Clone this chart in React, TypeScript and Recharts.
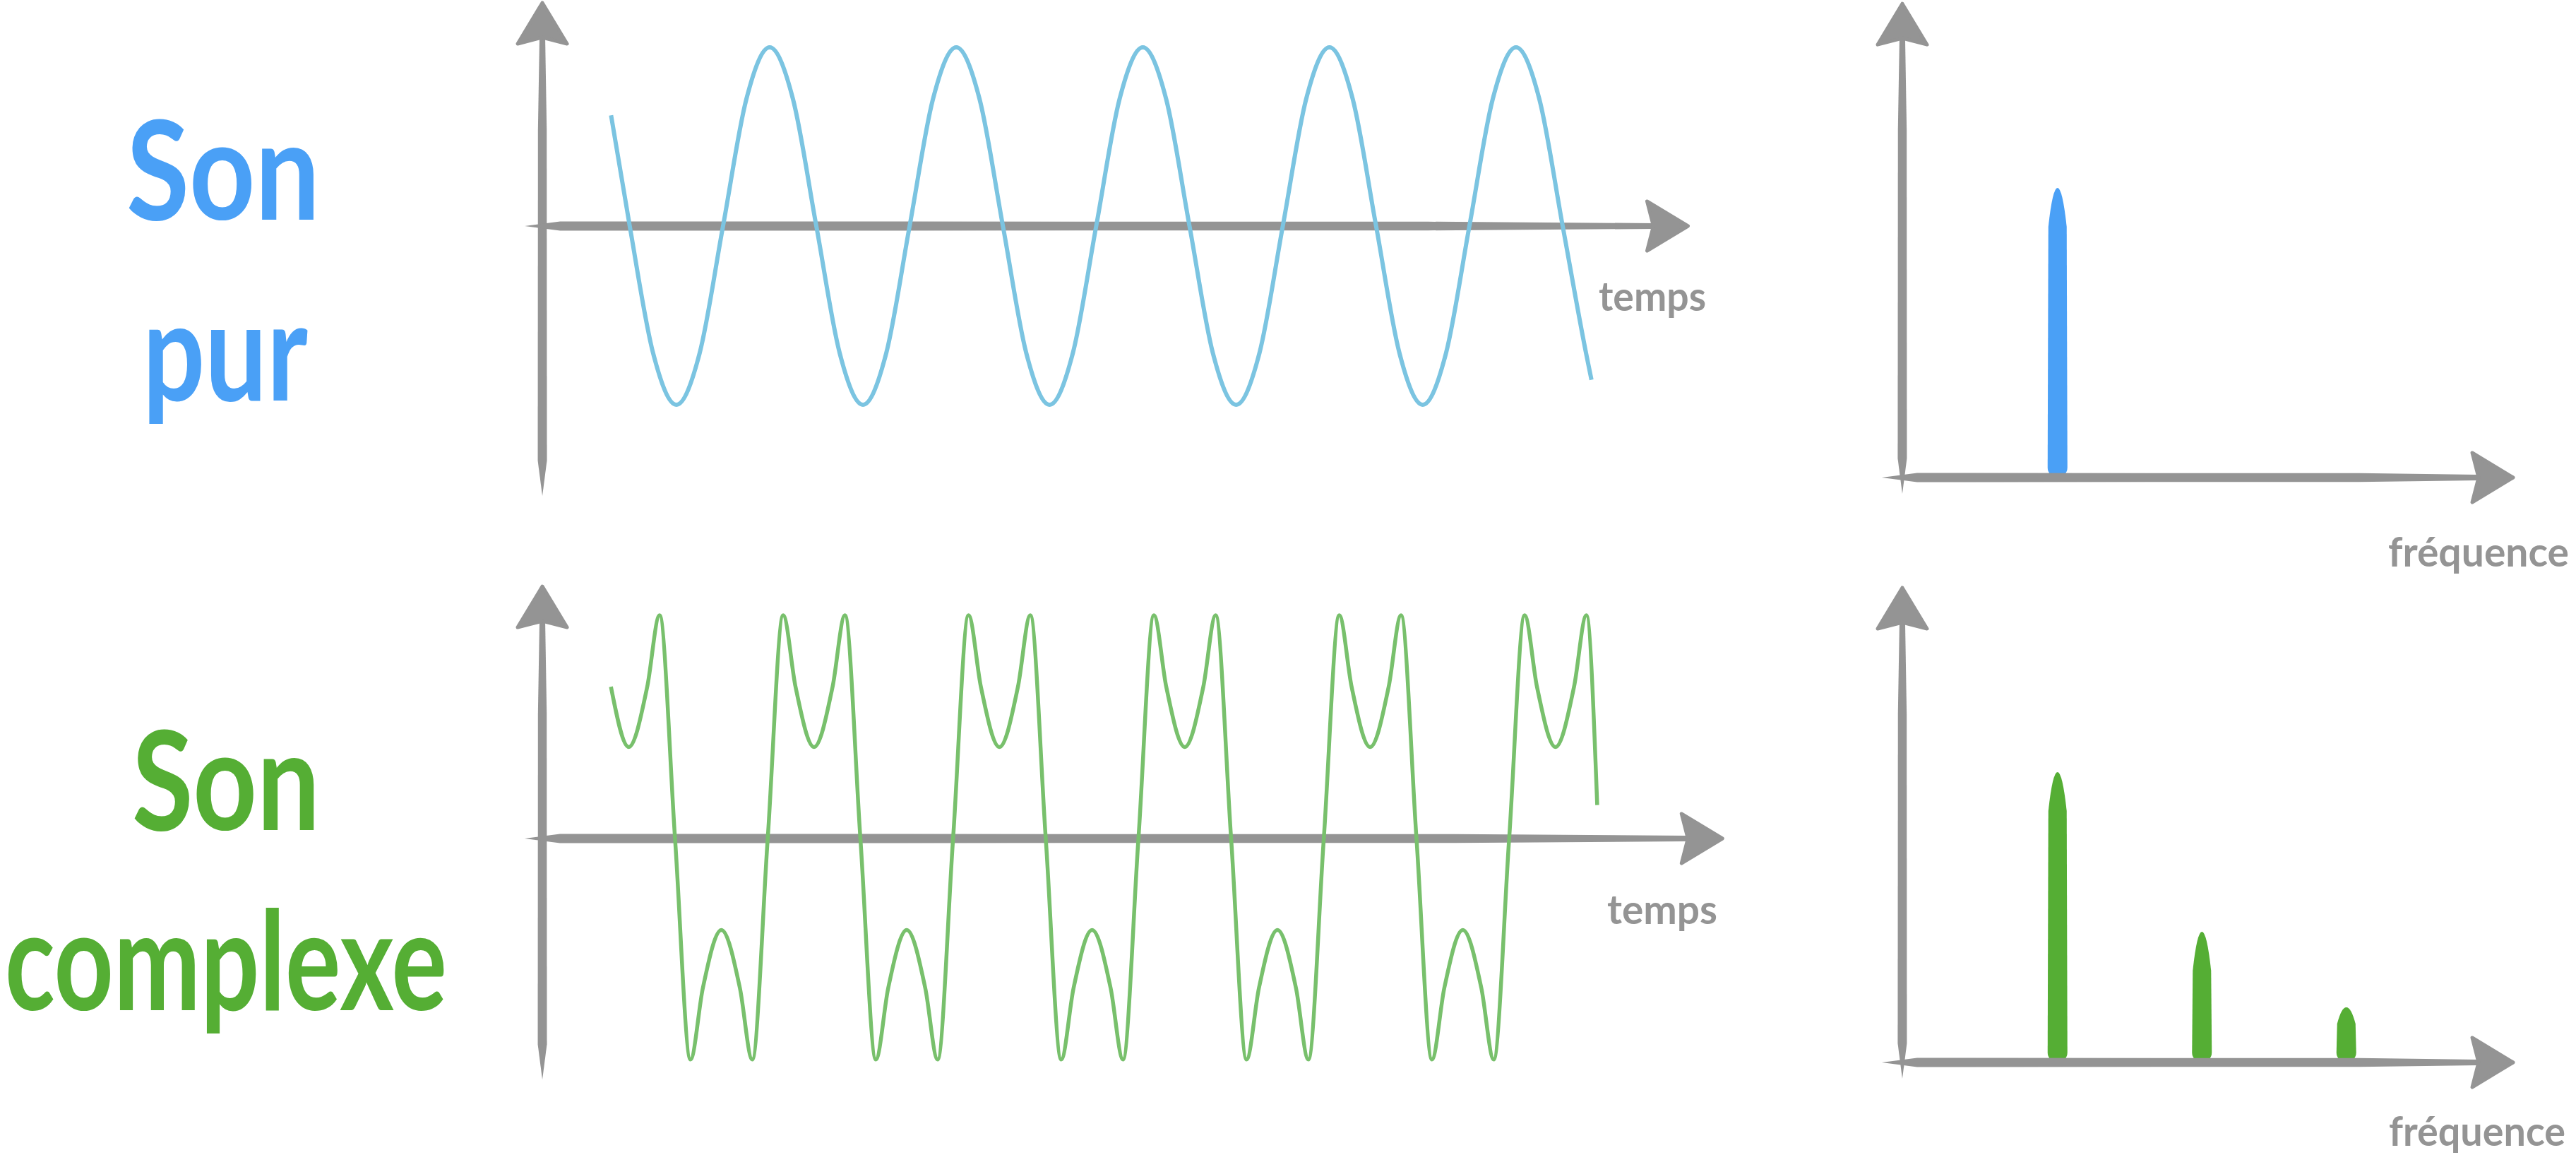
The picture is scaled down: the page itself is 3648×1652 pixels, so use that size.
import { Bar, BarChart, Line, LineChart, ReferenceLine, XAxis, YAxis } from "recharts";

const AXIS_GREY = "#949494";
const BLUE = "#4aa0f6";
const BLUE_WAVE = "#7bc4e1";
const GREEN = "#55ae34";
const GREEN_WAVE = "#78c06c";

// time is counted in 1/24 of a period, amplitude is relative to the peak
const pureTime = [
    -2.4,
    0, 3, 6, 9, 12, 15, 18, 21,
    24, 27, 30, 33, 36, 39, 42, 45,
    48, 51, 54, 57, 60, 63, 66, 69,
    72, 75, 78, 81, 84, 87, 90, 93,
    96, 99, 102, 105, 108, 111, 114, 117,
    120, 123, 123.7
];
const pureAmplitude = [
    0.62,
    0, -0.71, -1, -0.71, 0, 0.71, 1, 0.71,
    0, -0.71, -1, -0.71, 0, 0.71, 1, 0.71,
    0, -0.71, -1, -0.71, 0, 0.71, 1, 0.71,
    0, -0.71, -1, -0.71, 0, 0.71, 1, 0.71,
    0, -0.71, -1, -0.71, 0, 0.71, 1, 0.71,
    0, -0.71, -0.86
];

const complexTime = [
    3.7, 6, 8.4, 10, 12, 14, 15.6, 18, 20.4, 22,
    24, 26, 27.6, 30, 32.4, 34, 36, 38, 39.6, 42, 44.4, 46,
    48, 50, 51.6, 54, 56.4, 58, 60, 62, 63.6, 66, 68.4, 70,
    72, 74, 75.6, 78, 80.4, 82, 84, 86, 87.6, 90, 92.4, 94,
    96, 98, 99.6, 102, 104.4, 106, 108, 110, 111.6, 114, 116.4, 118,
    120, 122, 123.6, 126, 128.4, 130, 131.4
];
const complexAmplitude = [
    0.68, 0.41, 0.68, 1, 0, -0.99, -0.67, -0.41, -0.67, -0.99,
    0, 1, 0.68, 0.41, 0.68, 1, 0, -0.99, -0.67, -0.41, -0.67, -0.99,
    0, 1, 0.68, 0.41, 0.68, 1, 0, -0.99, -0.67, -0.41, -0.67, -0.99,
    0, 1, 0.68, 0.41, 0.68, 1, 0, -0.99, -0.67, -0.41, -0.67, -0.99,
    0, 1, 0.68, 0.41, 0.68, 1, 0, -0.99, -0.67, -0.41, -0.67, -0.99,
    0, 1, 0.68, 0.41, 0.68, 1, 0.15
];

const harmonics = [1, 2, 3];
const pureSpectrum = [1, 0, 0];
const complexSpectrum = [1, 0.45, 0.19];

const pureTitle = ["Son", "pur"];
const complexTitle = ["Son", "complexe"];
const timeLabel = "temps";
const freqLabel = "fréquence";

interface Frame {
    left: number;
    top: number;
    width: number;
    height: number;
    x0: number;
    kx: number;
    y0: number;
    ky: number;
}

interface Cross {
    yAt: number;
    yFrom: number;
    yTo: number;
    xFrom: number;
    xTo: number;
}

const topTime: Frame = { left: 700, top: -10, width: 1820, height: 730, x0: 891.8, kx: 11.01, y0: 320, ky: 253 };
const bottomTime: Frame = { left: 700, top: 800, width: 1820, height: 760, x0: 824.7, kx: 10.9375, y0: 1187, ky: 316 };
const topSpec: Frame = { left: 2600, top: -10, width: 1048, height: 730, x0: 2709.5, kx: 204.5, y0: 676, ky: 410 };
const bottomSpec: Frame = { left: 2600, top: 800, width: 1048, height: 760, x0: 2709.5, kx: 204.5, y0: 1504, ky: 411 };

const topTimeCross: Cross = { yAt: -11.24, yFrom: -1.51, yTo: 1.257, xFrom: -13.5, xTo: 136.3 };
const bottomTimeCross: Cross = { yAt: -5.18, yFrom: -1.08, yTo: 1.136, xFrom: -7.47, xTo: 147.8 };
const topSpecCross: Cross = { yAt: -0.076, yFrom: -0.056, yTo: 1.641, xFrom: -0.218, xTo: 4.164 };
const bottomSpecCross: Cross = { yAt: -0.076, yFrom: -0.056, yTo: 1.64, xFrom: -0.218, xTo: 4.164 };

const xDomain = (f: Frame): [number, number] => [(f.left - f.x0) / f.kx, (f.left + f.width - f.x0) / f.kx];
const yDomain = (f: Frame): [number, number] => [(f.y0 - f.top - f.height) / f.ky, (f.y0 - f.top) / f.ky];

const noMargin = { top: 0, right: 0, bottom: 0, left: 0 };

// hand drawn looking axis: pointed tail, thick shaft, notched arrow head
function arrowAxis(props: any) {
    const { x1, y1, x2, y2 } = props;
    const dx = x2 - x1;
    const dy = y2 - y1;
    const len = Math.hypot(dx, dy) || 1;
    const ux = dx / len;
    const uy = dy / len;
    const nx = -uy;
    const ny = ux;
    const head = 60;
    const half = 35;
    const notch = 9;
    const pt = (along: number, side: number) =>
        `${x1 + ux * along + nx * side},${y1 + uy * along + ny * side}`;
    const shaftEnd = len - head + notch;
    const shaft = `M${pt(0, 0)} L${pt(50, 6.5)} L${pt(shaftEnd * 0.8, 6.2)} L${pt(shaftEnd, 4)} L${pt(shaftEnd, -4)} L${pt(shaftEnd * 0.8, -6.2)} L${pt(50, -6.5)} Z`;
    const tip = `M${pt(len - 2, 0)} L${pt(len - head, half)} L${pt(len - head + notch, 0)} L${pt(len - head, -half)} Z`;
    return (
        <g>
            <path d={shaft} fill={AXIS_GREY} />
            <path d={tip} fill={AXIS_GREY} stroke={AXIS_GREY} strokeWidth={5} strokeLinejoin="round" />
        </g>
    );
}

function crossLines(cross: Cross) {
    return [
        <ReferenceLine
            key="y"
            segment={[{ x: cross.yAt, y: cross.yFrom }, { x: cross.yAt, y: cross.yTo }]}
            ifOverflow="visible"
            shape={arrowAxis}
        />,
        <ReferenceLine
            key="x"
            segment={[{ x: cross.xFrom, y: 0 }, { x: cross.xTo, y: 0 }]}
            ifOverflow="visible"
            shape={arrowAxis}
        />
    ];
}

function BrushBar(props: any) {
    const { x, y, width, height, fill } = props;
    if (!height || height <= 1) return <g />;
    const r = width / 2;
    const bottom = y + height;
    const taper = Math.min(55, height * 0.3);
    const d = [
        `M${x},${bottom - r}`,
        `L${x + 1},${y + taper}`,
        `Q${x + width * 0.25},${y} ${x + r},${y}`,
        `Q${x + width * 0.75},${y} ${x + width - 1},${y + taper}`,
        `L${x + width},${bottom - r}`,
        `A${r},${r} 0 0 1 ${x},${bottom - r}`,
        "Z"
    ].join(" ");
    return <path d={d} fill={fill} />;
}

interface TimePanelProps {
    frame: Frame;
    cross: Cross;
    time: number[];
    amplitude: number[];
    color: string;
    width: number;
}

function TimePanel({ frame, cross, time, amplitude, color, width }: TimePanelProps) {
    const data = time.map((t, i) => ({ t, v: amplitude[i] }));
    return (
        <div style={{ position: "absolute", left: frame.left, top: frame.top }}>
            <LineChart width={frame.width} height={frame.height} data={data} margin={noMargin}>
                <XAxis type="number" dataKey="t" domain={xDomain(frame)} allowDataOverflow hide />
                <YAxis type="number" domain={yDomain(frame)} allowDataOverflow hide />
                {crossLines(cross)}
                <Line
                    type="monotone"
                    dataKey="v"
                    stroke={color}
                    strokeWidth={width}
                    dot={false}
                    activeDot={false}
                    isAnimationActive={false}
                />
            </LineChart>
        </div>
    );
}

interface SpectrumPanelProps {
    frame: Frame;
    cross: Cross;
    amplitude: number[];
    color: string;
}

function SpectrumPanel({ frame, cross, amplitude, color }: SpectrumPanelProps) {
    const data = harmonics.map((f, i) => ({ f, a: amplitude[i] }));
    return (
        <div style={{ position: "absolute", left: frame.left, top: frame.top }}>
            <BarChart width={frame.width} height={frame.height} data={data} margin={noMargin} barSize={28}>
                <XAxis type="number" dataKey="f" domain={xDomain(frame)} allowDataOverflow hide />
                <YAxis type="number" domain={yDomain(frame)} allowDataOverflow hide />
                {crossLines(cross)}
                <Bar dataKey="a" fill={color} shape={BrushBar} isAnimationActive={false} />
            </BarChart>
        </div>
    );
}

const FONT = "Lato, 'Open Sans', sans-serif";

const titles = [
    { text: pureTitle[0], cx: 316, y: 311, w: 274, color: BLUE },
    { text: pureTitle[1], cx: 319, y: 567, w: 234, color: BLUE },
    { text: complexTitle[0], cx: 320, y: 1175, w: 266, color: GREEN },
    { text: complexTitle[1], cx: 320, y: 1430, w: 626, color: GREEN }
];

const axisLabels = [
    { text: timeLabel, cx: 2340, y: 440, w: 152 },
    { text: timeLabel, cx: 2354, y: 1308, w: 156 },
    { text: freqLabel, cx: 3510, y: 802, w: 256 },
    { text: freqLabel, cx: 3508, y: 1622, w: 250 }
];

export default function App() {
    return (
        <div
            style={{
                position: "absolute",
                left: 0,
                top: 0,
                width: 3648,
                height: 1652,
                background: "#ffffff",
                overflow: "hidden"
            }}
        >
            <TimePanel
                frame={topTime}
                cross={topTimeCross}
                time={pureTime}
                amplitude={pureAmplitude}
                color={BLUE_WAVE}
                width={6}
            />
            <TimePanel
                frame={bottomTime}
                cross={bottomTimeCross}
                time={complexTime}
                amplitude={complexAmplitude}
                color={GREEN_WAVE}
                width={5.5}
            />
            <SpectrumPanel frame={topSpec} cross={topSpecCross} amplitude={pureSpectrum} color={BLUE} />
            <SpectrumPanel frame={bottomSpec} cross={bottomSpecCross} amplitude={complexSpectrum} color={GREEN} />

            <svg
                width={3648}
                height={1652}
                style={{ position: "absolute", left: 0, top: 0, pointerEvents: "none" }}
            >
                {titles.map((t, i) => (
                    <text
                        key={`title-${i}`}
                        x={t.cx}
                        y={t.y}
                        textAnchor="middle"
                        textLength={t.w}
                        lengthAdjust="spacingAndGlyphs"
                        fontFamily={FONT}
                        fontWeight={700}
                        fontSize={195}
                        fill={t.color}
                    >
                        {t.text}
                    </text>
                ))}
                {axisLabels.map((t, i) => (
                    <text
                        key={`label-${i}`}
                        x={t.cx}
                        y={t.y}
                        textAnchor="middle"
                        textLength={t.w}
                        lengthAdjust="spacingAndGlyphs"
                        fontFamily={FONT}
                        fontWeight={700}
                        fontSize={58}
                        fill={AXIS_GREY}
                    >
                        {t.text}
                    </text>
                ))}
            </svg>
        </div>
    );
}
